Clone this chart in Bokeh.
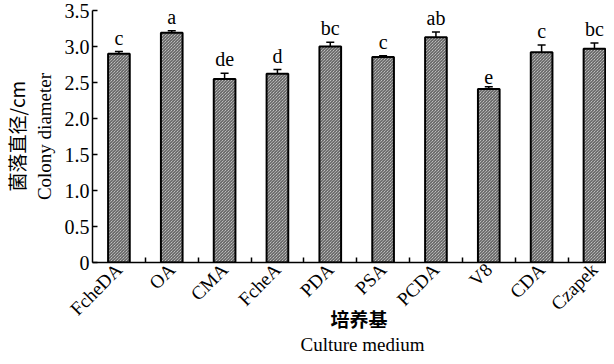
import math
from bokeh.plotting import figure
from bokeh.models import ColumnDataSource, FixedTicker, Whisker, TeeHead, Title
from bokeh.core.properties import value
from bokeh.embed import file_html
from bokeh.resources import INLINE

media = ["FcheDA", "OA", "CMA", "FcheA", "PDA", "PSA", "PCDA", "V8", "CDA", "Czapek"]
diameter = [2.90, 3.19, 2.55, 2.62, 3.00, 2.855, 3.13, 2.41, 2.92, 2.97]
error = [0.03, 0.03, 0.08, 0.06, 0.06, 0.015, 0.07, 0.03, 0.10, 0.08]
letters = ["c", "a", "de", "d", "bc", "c", "ab", "e", "c", "bc"]
y_ticks = [0, 0.5, 1.0, 1.5, 2.0, 2.5, 3.0, 3.5]
y_tick_labels = ["0", "0.5", "1.0", "1.5", "2.0", "2.5", "3.0", "3.5"]

SERIF = "Liberation Serif"
CJK = "Noto Sans CJK SC"

xs = list(range(len(media)))
src = ColumnDataSource(dict(
    x=xs, top=diameter,
    upper=[d + e for d, e in zip(diameter, error)],
    lower=[d - e for d, e in zip(diameter, error)],
    lab=letters,
))

p = figure(width=606, height=356, output_backend="svg", toolbar_location=None,
           x_range=(-0.5, 9.228), y_range=(0, 3.5),
           min_border_left=88, min_border_right=0, min_border_top=10, min_border_bottom=94)
p.outline_line_color = None
p.xgrid.visible = False
p.ygrid.visible = False
p.background_fill_color = "white"
p.border_fill_color = "white"

p.vbar(x="x", top="top", width=0.41, bottom=0, source=src,
       fill_color="#e8e8e8", line_color="black", line_width=2,
       hatch_pattern="\\", hatch_color="#444444", hatch_scale=3, hatch_weight=1)

w = Whisker(base="x", upper="upper", lower="lower", source=src,
            line_color="black", line_width=1.5,
            upper_head=TeeHead(size=8, line_color="black", line_width=1.5),
            lower_head=TeeHead(size=8, line_color="black", line_width=1.5))
p.add_layout(w)

p.text(x="x", y="upper", text="lab", source=src, y_offset=-3,
       text_align="center", text_baseline="bottom",
       text_font=value(SERIF), text_font_size="20px", text_color="black")

# y axis
ya = p.yaxis[0]
ya.ticker = FixedTicker(ticks=y_ticks, minor_ticks=[])
ya.major_label_overrides = {t: l for t, l in zip(y_ticks, y_tick_labels)}
ya.major_tick_in = 5
ya.major_tick_out = 0
ya.minor_tick_in = 0
ya.minor_tick_out = 0
ya.axis_line_width = 1.5
ya.major_tick_line_width = 1.5
ya.major_label_text_font = SERIF
ya.major_label_text_font_size = "20px"
ya.major_label_text_color = "black"
ya.major_label_standoff = 3
ya.axis_label = "Colony diameter"
ya.axis_label_standoff = 7
ya.axis_label_text_font = SERIF
ya.axis_label_text_font_size = "19px"
ya.axis_label_text_font_style = "normal"
ya.axis_label_text_color = "black"

# x axis
xa = p.xaxis[0]
xa.ticker = FixedTicker(ticks=xs, minor_ticks=[i + 0.5 for i in xs])
xa.major_label_overrides = {i: m for i, m in enumerate(media)}
xa.major_tick_in = 0
xa.major_tick_out = 0
xa.minor_tick_in = 5
xa.minor_tick_out = 0
xa.minor_tick_line_width = 1.5
xa.axis_line_width = 1.5
xa.major_label_orientation = math.pi / 4
xa.major_label_text_font = SERIF
xa.major_label_text_font_size = "19px"
xa.major_label_text_color = "black"
xa.major_label_standoff = 4
xa.axis_label = "\u3000培养基"
xa.axis_label_standoff = -25
xa.axis_label_text_font = CJK
xa.axis_label_text_font_size = "19px"
xa.axis_label_text_font_style = "bold"
xa.axis_label_text_color = "black"

# outer axis titles
p.add_layout(Title(text="菌落直径/cm", align="center", vertical_align="bottom", standoff=1.4,
                   text_font=CJK, text_font_size="19px", text_font_style="normal",
                   text_color="black"), "left")
p.add_layout(Title(text="Culture medium", align="left", offset=208, vertical_align="top", standoff=-1,
                   text_font=SERIF, text_font_size="19px", text_font_style="normal",
                   text_color="black"), "below")

open("out.html", "w").write(file_html(p, INLINE))
